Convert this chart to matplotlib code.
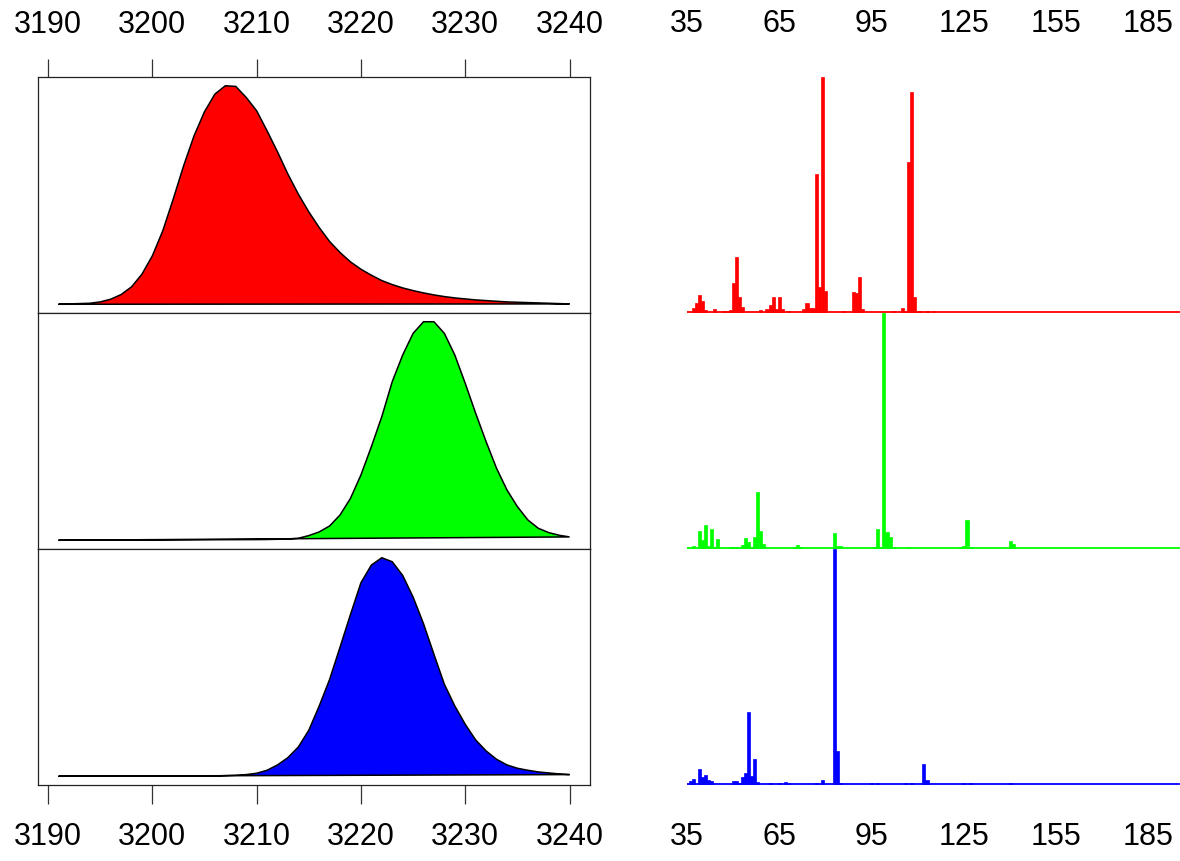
import numpy as np
import matplotlib.pyplot as plt

plt.rcParams['font.family'] = ['Liberation Sans', 'DejaVu Sans']

# retention index grid of the density curves (left column)
rt = list(range(3191, 3241))

dens_red = [0, 1, 2, 3, 7, 15, 29, 52, 90, 145,
            220, 315, 415, 505, 577, 630, 655, 653, 620, 580,
            520, 457, 390, 330, 277, 230, 188, 155, 127, 105,
            87, 71, 59, 49, 41, 34, 28, 23, 19, 16,
            13, 11, 9, 7, 6, 5, 4, 3, 2, 1]
dens_green = [0, 0.2, 0.3, 0.4, 0.5, 0.6, 0.7, 0.8, 0.9, 1.0,
              1.1, 1.2, 1.3, 1.4, 1.5, 1.6, 1.7, 1.8, 1.9, 2,
              2.3, 3, 4, 6, 14, 25, 43, 76, 126, 196,
              281, 371, 476, 556, 621, 656, 656, 621, 556, 471,
              381, 296, 216, 151, 101, 61, 36, 23, 15, 10]
dens_blue = [0, 0.1, 0.2, 0.3, 0.4, 0.5, 0.6, 0.7, 0.8, 0.9,
             1, 1, 1, 1, 1, 1, 2, 3, 5, 9,
             18, 34, 56, 88, 138, 211, 291, 388, 486, 581,
             634, 656, 644, 603, 538, 458, 366, 276, 211, 156,
             109, 76, 51, 34, 24, 18, 13, 10, 7, 5]

# mass spectra (right column)
mz_range = [35, 195]

mz_red = [37, 38, 39, 40, 41, 44, 47, 48, 49, 50, 51, 52, 53, 59, 61, 62, 63, 64,
          65, 66, 68, 73, 74, 75, 76, 77, 78, 79, 80, 86, 89, 90, 91, 92, 102,
          105, 106, 107, 108, 109, 110, 111, 113, 115]
int_red = [4, 9, 17, 11, 2, 3, 1, 1, 2, 29, 55, 15, 5, 2, 3, 7, 15, 3,
           15, 3, 1, 3, 9, 4, 4, 138, 25, 235, 21, 1, 20, 19, 35, 3, 1,
           4, 1, 150, 220, 15, 1, 1, 1, 1]

mz_green = [37, 39, 40, 41, 42, 43, 44, 45, 49, 50, 51, 53, 54, 55, 56, 57, 58, 59,
            60, 70, 71, 72, 83, 84, 85, 96, 97, 98, 99, 100, 101, 102, 107,
            124, 125, 126, 127, 140, 141]
int_green = [2, 16, 8, 22, 2, 18, 1, 9, 1, 1, 1, 3, 10, 6, 1, 11, 55, 16,
             4, 1, 3, 1, 14, 2, 2, 1, 18, 1, 233, 15, 11, 1, 1,
             1, 2, 27, 1, 7, 4]

mz_blue = [36, 37, 39, 40, 41, 42, 43, 50, 51, 52, 53, 54, 55, 56, 57, 58, 62, 65,
           67, 68, 77, 79, 83, 84, 85, 95, 97, 106, 108, 112, 113, 125, 127, 140]
int_blue = [3, 5, 15, 7, 9, 4, 3, 3, 3, 1, 7, 11, 72, 8, 25, 2, 1, 1,
            1.5, 1, 1, 4, 235, 33, 1, 1, 1, 1, 1, 20, 4, 1, 1, 1]

colors = ['#FF0000', '#00FF00', '#0000FF']
dens = [dens_red, dens_green, dens_blue]
spectra = [(mz_red, int_red), (mz_green, int_green), (mz_blue, int_blue)]

rt_ticks = [3190, 3200, 3210, 3220, 3230, 3240]
mz_ticks = [35, 65, 95, 125, 155, 185]

W, H = 1180, 862
fig = plt.figure(figsize=(W / 100, H / 100), dpi=100)

panel_tops = [78, 314, 550]
panel_h = 236
fs = 22

for k in range(3):
    bottom = 1 - (panel_tops[k] + panel_h) / H

    # density panel
    ax = fig.add_axes([38 / W, bottom, 552 / W, panel_h / H])
    y = np.array(dens[k], dtype=float)
    ax.fill(rt, y, facecolor=colors[k], edgecolor='black', linewidth=1.1)
    rng = y.max() - y.min()
    ax.set_ylim(y.min() - 0.04 * rng, y.max() + 0.04 * rng)
    xr = rt[-1] - rt[0]
    ax.set_xlim(rt[0] - 0.04 * xr, rt[-1] + 0.04 * xr)
    ax.set_yticks([])
    ax.set_xticks(rt_ticks)
    for s in ax.spines.values():
        s.set_linewidth(0.9)
        s.set_color('#222222')
    if k == 0:
        ax.xaxis.tick_top()
        ax.tick_params(axis='x', direction='out', length=13, width=0.9,
                       color='#333333', pad=14.5, labelsize=fs)
    elif k == 2:
        ax.tick_params(axis='x', direction='out', length=13.5, width=0.9,
                       color='#333333', pad=12.5, labelsize=fs)
    else:
        ax.tick_params(axis='x', length=0, labelbottom=False)

    # spectrum panel
    ax2 = fig.add_axes([687 / W, bottom, 493 / W, panel_h / H])
    mz, inten = spectra[k]
    top = max(inten)
    ax2.plot(mz_range, [0, 0], color=colors[k], linewidth=1.3)
    ax2.bar(mz, inten, width=1.0, color=colors[k], edgecolor=colors[k],
            linewidth=0.5)
    ax2.set_xlim(mz_range[0], mz_range[0] + (W - 687) / 3.077)
    ax2.set_ylim(-0.006 * top, top)
    ax2.set_yticks([])
    ax2.set_xticks(mz_ticks)
    for s in ax2.spines.values():
        s.set_visible(False)
    if k == 0:
        ax2.xaxis.tick_top()
        ax2.tick_params(axis='x', length=0, pad=28, labelsize=fs)
    elif k == 2:
        ax2.tick_params(axis='x', length=0, pad=26, labelsize=fs)
    else:
        ax2.tick_params(axis='x', length=0, labelbottom=False)

fig.savefig('out.png', dpi=100)
